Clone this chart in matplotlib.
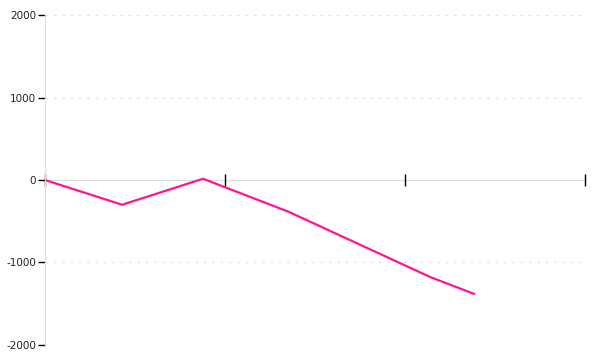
import matplotlib
matplotlib.use("Agg")
import matplotlib.pyplot as plt

x_vals = [0.0, 0.428, 0.878, 1.353, 2.139, 2.383]
y_vals = [0, -300, 15, -385, -1175, -1380]
y_ticks = [-2000, -1000, 0, 1000, 2000]
x_ticks = [0, 1, 2, 3]

fig = plt.figure(figsize=(6, 3.6), dpi=100)
ax = fig.add_axes([0.075, 0.0417, 0.9, 0.9166])
ax.set_xlim(0, 3)
ax.set_ylim(-2000, 2000)

for yt in y_ticks:
    if yt != 0:
        ax.axhline(yt, color="#e3e3e3", lw=1, linestyle=(0, (2, 4)), zorder=0)

ax.plot(x_vals, y_vals, color="#ff1493", lw=1.6, zorder=2)

for s in ["top", "right"]:
    ax.spines[s].set_visible(False)
ax.spines["bottom"].set_position(("data", 0))
ax.spines["bottom"].set_color("#dddddd")
ax.spines["left"].set_color("#dddddd")
ax.spines["bottom"].set_zorder(1)

ax.set_yticks(y_ticks)
ax.set_yticklabels([str(v) for v in y_ticks])
ax.set_xticks(x_ticks)
ax.set_xticklabels(["" for _ in x_ticks])
ax.tick_params(axis="y", direction="out", length=5, width=1, color="black",
               labelsize=7.5, pad=1.5, labelcolor="#222222")
ax.tick_params(axis="x", direction="inout", length=9, width=1, color="black")

fig.savefig("out.png", dpi=100)
